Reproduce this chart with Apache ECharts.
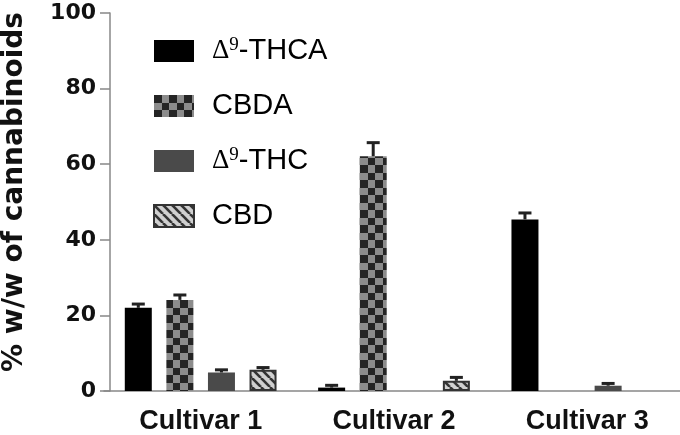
<!DOCTYPE html>
<html><head><meta charset="utf-8">
<script src="https://cdn.jsdelivr.net/npm/echarts@6/dist/echarts.min.js"></script>
<style>html,body{margin:0;padding:0;background:#fff}#c{width:680px;height:435px}</style>
</head><body><div id="c"></div>
<script>
const categories = ['Cultivar 1', 'Cultivar 2', 'Cultivar 3'];
const seriesNames = ['THCA', 'CBDA', 'THC', 'CBD'];
const thca = [22.0, 0.9, 45.4];
const thcaErr = [1.0, 0.6, 1.7];
const cbda = [24.1, 62.1, 0];
const cbdaErr = [1.3, 3.6, 0];
const thc = [4.9, 0, 1.4];
const thcErr = [0.7, 0, 0.6];
const cbd = [5.6, 2.7, 0];
const cbdErr = [0.6, 0.9, 0];
const yTicks = [0, 20, 40, 60, 80, 100];

function checker() {
  const c = document.createElement('canvas'); c.width = 15; c.height = 15;
  const g = c.getContext('2d');
  g.fillStyle = '#8c8c8c'; g.fillRect(0, 0, 15, 15);
  g.fillStyle = '#242424'; g.fillRect(0, 0, 8, 8); g.fillRect(8, 8, 7, 7);
  return c;
}
function hatch() {
  const c = document.createElement('canvas'); c.width = 9; c.height = 9;
  const g = c.getContext('2d');
  g.fillStyle = '#d0d0d0'; g.fillRect(0, 0, 9, 9);
  g.strokeStyle = '#333'; g.lineWidth = 2.6;
  for (const o of [-9, 0, 9]) { g.beginPath(); g.moveTo(o, 0); g.lineTo(o + 9, 9); g.stroke(); }
  return c;
}
const styles = [
  { color: '#000' },
  { color: { image: checker(), repeat: 'repeat' } },
  { color: '#4a4a4a' },
  { color: { image: hatch(), repeat: 'repeat' }, borderColor: '#333', borderWidth: 2 }
];
const values = [thca, cbda, thc, cbd];
const errs = [thcaErr, cbdaErr, thcErr, cbdErr];
const BAR_W = 27, BAR_GAP = 0.54;

const series = [];
values.forEach((v, k) => {
  series.push({
    name: seriesNames[k], type: 'bar', data: v.map(x => (x === 0 ? '-' : x)),
    barWidth: BAR_W, barGap: (BAR_GAP * 100) + '%',
    itemStyle: styles[k], z: 2
  });
});
values.forEach((v, k) => {
  series.push({
    type: 'custom', z: 3, silent: true,
    data: v.map((m, i) => [i, m, errs[k][i]]),
    renderItem: function (params, api) {
      const e = api.value(2);
      if (!e) return null;
      const i = api.value(0), m = api.value(1);
      const off = (k - 1.5) * BAR_W * (1 + BAR_GAP);
      const b = api.coord([i, m]), t = api.coord([i, m + e]);
      const x = b[0] + off;
      return { type: 'group', children: [
        { type: 'line', shape: { x1: x, y1: b[1], x2: x, y2: t[1] }, style: { stroke: '#222', lineWidth: 3 } },
        { type: 'line', shape: { x1: x - 6.5, y1: t[1], x2: x + 6.5, y2: t[1] }, style: { stroke: '#222', lineWidth: 3 } }
      ]};
    }
  });
});

const legendLabels = {
  THCA: '{g|}{d|Δ}{s|9}{n|-THCA}',
  CBDA: '{g|}{n|CBDA}',
  THC: '{g|}{d|Δ}{s|9}{n|-THC}',
  CBD: '{g|}{n|CBD}'
};

const chart = echarts.init(document.getElementById('c'), null, { renderer: 'canvas' });
chart.setOption({
  animation: false,
  textStyle: { fontFamily: 'Liberation Sans' },
  grid: { left: 104, width: 580, top: 13, height: 378, containLabel: false, outerBoundsMode: 'none' },
  legend: {
    orient: 'vertical', left: 148, top: 31, itemWidth: 40, itemHeight: 22, itemGap: 25,
    icon: 'rect', data: seriesNames,
    formatter: n => legendLabels[n],
    textStyle: {
      lineHeight: 30,
      rich: {
        g: { width: 13 },
        n: { fontSize: 29, color: '#000', fontFamily: 'Liberation Sans', lineHeight: 30 },
        d: { fontSize: 27, color: '#000', fontFamily: 'Liberation Serif', lineHeight: 30 },
        s: { fontSize: 19, color: '#000', fontFamily: 'Liberation Serif', verticalAlign: 'top', lineHeight: 16 }
      }
    }
  },
  xAxis: {
    type: 'category', data: categories,
    axisLine: { lineStyle: { color: '#888', width: 1.5 } },
    axisTick: { alignWithLabel: true, length: 10, lineStyle: { color: '#888', width: 1.5 } },
    axisLabel: { fontSize: 27, fontWeight: 'bold', color: '#111', margin: 17 }
  },
  yAxis: {
    type: 'value', min: yTicks[0], max: yTicks[yTicks.length - 1], interval: 20, offset: -6,
    splitLine: { show: false },
    axisLine: { show: true, lineStyle: { color: '#888', width: 1.5 } },
    axisTick: { show: true, length: 10, lineStyle: { color: '#888', width: 1.5 } },
    axisLabel: { fontSize: 22, fontWeight: 'bold', color: '#111', margin: 14, fontFamily: 'DejaVu Sans' },
    name: '% w/w of cannabinoids', nameLocation: 'middle', nameRotate: 90, nameGap: 81,
    nameTextStyle: { fontSize: 28, fontWeight: 'bold', color: '#111', fontFamily: 'DejaVu Sans', padding: [0, 0, 0, 20] }
  },
  series: series
});
</script></body></html>
